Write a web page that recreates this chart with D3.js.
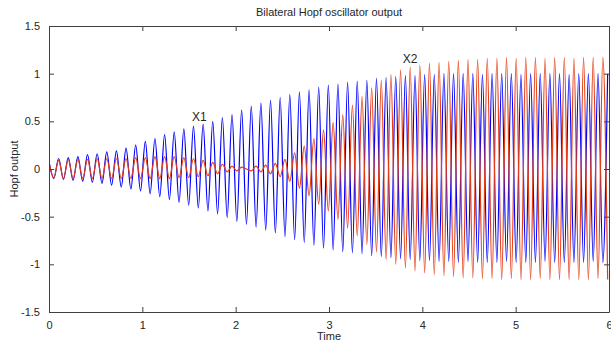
<!DOCTYPE html>
<html>
<head>
<meta charset="utf-8">
<script src="https://cdn.jsdelivr.net/npm/d3@7"></script>
<style>
  html, body { margin: 0; padding: 0; background: #fff; }
  svg { display: block; }
  text { font-family: "Liberation Sans", Arial, sans-serif; fill: #262626; }
</style>
</head>
<body>
<div id="chart"></div>
<script>
// Extrema of each oscillator, sampled every half period (peak, trough, peak, ...)
const sampleStep = 0.0516;

const x1Values = [
  0.08, -0.10, 0.11, -0.11, 0.12, -0.12, 0.13, -0.13, 0.15, -0.14,
  0.16, -0.15, 0.18, -0.17, 0.19, -0.19, 0.22, -0.21, 0.25, -0.23,
  0.29, -0.26, 0.32, -0.29, 0.36, -0.32, 0.39, -0.35, 0.42, -0.38,
  0.45, -0.41, 0.47, -0.44, 0.50, -0.47, 0.54, -0.51, 0.57, -0.55,
  0.62, -0.58, 0.66, -0.61, 0.69, -0.64, 0.72, -0.67, 0.75, -0.71,
  0.78, -0.74, 0.81, -0.77, 0.83, -0.80, 0.86, -0.83, 0.88, -0.85,
  0.89, -0.87, 0.91, -0.88, 0.92, -0.89, 0.93, -0.91, 0.95, -0.92,
  0.96, -0.93, 0.97, -0.94, 0.98, -0.95, 0.98, -0.96, 0.99, -0.96,
  0.99, -0.97, 1.00, -0.97, 1.00, -0.98, 1.00, -0.97, 1.00, -0.98,
  0.99, -0.98, 1.00, -0.98, 1.00, -0.97, 1.00, -0.98, 0.99, -0.98,
  1.00, -0.98, 1.00, -0.97, 1.00, -0.98, 1.00, -0.98, 0.99, -0.98,
  1.00, -0.98, 1.00, -0.97, 1.00, -0.98, 1.00
];

const x2Values = [
  0.07, -0.09, 0.09, -0.10, 0.10, -0.10, 0.10, -0.10, 0.10, -0.10,
  0.11, -0.10, 0.11, -0.10, 0.11, -0.10, 0.11, -0.10, 0.12, -0.10,
  0.12, -0.10, 0.13, -0.10, 0.13, -0.10, 0.13, -0.09, 0.12, -0.09,
  0.11, -0.08, 0.09, -0.07, 0.07, -0.05, 0.05, -0.03, 0.03, -0.02,
  0.02, 0.00, -0.02, 0.03, -0.03, 0.04, -0.05, 0.06, -0.08, 0.10,
  -0.13, 0.17, -0.20, 0.24, -0.28, 0.32, -0.37, 0.41, -0.44, 0.49,
  -0.53, 0.57, -0.62, 0.67, -0.70, 0.76, -0.79, 0.85, -0.87, 0.93,
  -0.95, 0.99, -1.00, 1.04, -1.04, 1.07, -1.07, 1.09, -1.09, 1.11,
  -1.11, 1.12, -1.12, 1.13, -1.13, 1.14, -1.14, 1.15, -1.14, 1.15,
  -1.15, 1.16, -1.15, 1.16, -1.16, 1.17, -1.15, 1.16, -1.16, 1.17,
  -1.16, 1.17, -1.15, 1.16, -1.16, 1.17, -1.16, 1.17, -1.16, 1.16,
  -1.16, 1.17, -1.16, 1.17, -1.15, 1.17, -1.16
];

const xTicks = [0, 1, 2, 3, 4, 5, 6];
const yTicks = [-1.5, -1, -0.5, 0, 0.5, 1, 1.5];

const width = 611;
const height = 342;
const margin = { top: 26, right: 2, bottom: 30, left: 49 };

const svg = d3.select('#chart')
  .append('svg')
  .attr('width', width)
  .attr('height', height);

const x = d3.scaleLinear().domain([0, 6]).range([margin.left, width - margin.right]);
const y = d3.scaleLinear().domain([-1.5, 1.5]).range([height - margin.bottom, margin.top]);

svg.append('clipPath').attr('id', 'plot-clip')
  .append('rect')
  .attr('x', margin.left).attr('y', margin.top)
  .attr('width', x(6) - x(0)).attr('height', y(-1.5) - y(1.5));

const line = d3.line()
  .x((d, i) => x(i * sampleStep))
  .y(d => y(d))
  .curve(d3.curveMonotoneX);

const plot = svg.append('g').attr('clip-path', 'url(#plot-clip)');

plot.append('path')
  .datum(x1Values)
  .attr('fill', 'none')
  .attr('stroke', '#0000ff')
  .attr('stroke-width', 1.2)
  .attr('d', line);

plot.append('path')
  .datum(x2Values)
  .attr('fill', 'none')
  .attr('stroke', '#e63c14')
  .attr('stroke-width', 1.2)
  .attr('d', line);

// Axes: ticks point inward on all four sides, MATLAB style
const axisColor = '#404040';
const fmt = d => String(d);

const axisBottomG = svg.append('g')
  .attr('transform', `translate(0,${y(-1.5)})`)
  .call(d3.axisBottom(x).tickValues(xTicks).tickFormat(fmt).tickSizeInner(-5).tickSizeOuter(0).tickPadding(9));
const axisTopG = svg.append('g')
  .attr('transform', `translate(0,${y(1.5)})`)
  .call(d3.axisTop(x).tickValues(xTicks).tickFormat('').tickSizeInner(-5).tickSizeOuter(0));
const axisLeftG = svg.append('g')
  .attr('transform', `translate(${x(0)},0)`)
  .call(d3.axisLeft(y).tickValues(yTicks).tickFormat(fmt).tickSizeInner(-5).tickSizeOuter(0).tickPadding(9));
const axisRightG = svg.append('g')
  .attr('transform', `translate(${x(6)},0)`)
  .call(d3.axisRight(y).tickValues(yTicks).tickFormat('').tickSizeInner(-5).tickSizeOuter(0));

[axisBottomG, axisTopG, axisLeftG, axisRightG].forEach(g => {
  g.select('.domain').attr('stroke', axisColor);
  g.selectAll('.tick line').attr('stroke', axisColor);
  g.selectAll('.tick text')
    .attr('font-size', 11)
    .attr('font-family', '"Liberation Sans", Arial, sans-serif')
    .attr('fill', '#262626');
});

// Titles
svg.append('text')
  .attr('x', (x(0) + x(6)) / 2)
  .attr('y', 16)
  .attr('text-anchor', 'middle')
  .attr('font-size', 11)
  .text('Bilateral Hopf oscillator output');

svg.append('text')
  .attr('x', (x(0) + x(6)) / 2)
  .attr('y', 340)
  .attr('text-anchor', 'middle')
  .attr('font-size', 11)
  .text('Time');

svg.append('text')
  .attr('transform', `translate(18,${y(0)}) rotate(-90)`)
  .attr('text-anchor', 'middle')
  .attr('font-size', 11)
  .text('Hopf output');

// Series labels
svg.append('text')
  .attr('x', x(1.61))
  .attr('y', y(0.50))
  .attr('text-anchor', 'middle')
  .attr('font-size', 12)
  .text('X1');

svg.append('text')
  .attr('x', x(3.87))
  .attr('y', y(1.11))
  .attr('text-anchor', 'middle')
  .attr('font-size', 12)
  .text('X2');
</script>
</body>
</html>
